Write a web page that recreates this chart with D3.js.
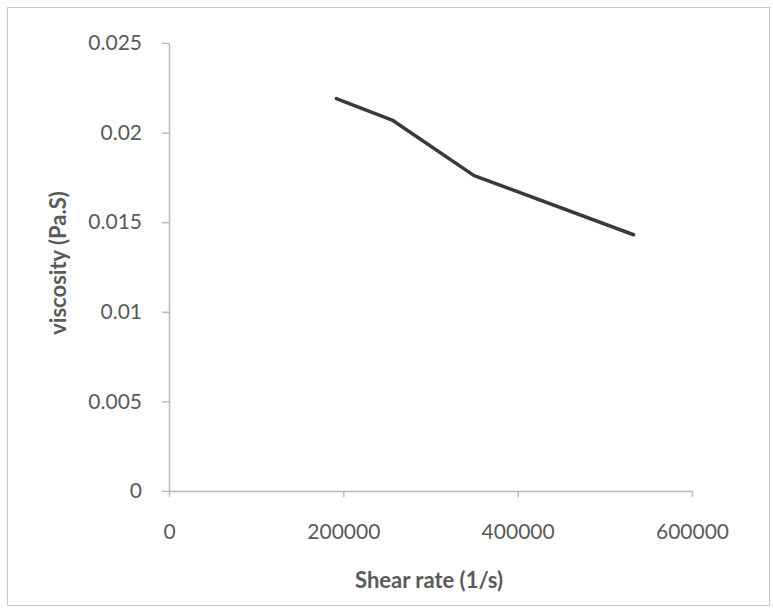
<!DOCTYPE html>
<html>
<head>
<meta charset="utf-8">
<script src="https://d3js.org/d3.v7.min.js"></script>
<style>
  body { margin: 0; background: #fff; }
  svg text { font-family: Lato, "Open Sans", sans-serif; fill: #5a5a5a; }
</style>
</head>
<body>
<div id="chart"></div>
<script>
  // values
  var shearRate = [192000, 256000, 350000, 533000];
  var viscosity = [0.0219, 0.0207, 0.0176, 0.0143];
  var xTicks = [0, 200000, 400000, 600000];
  var yTicks = [0, 0.005, 0.01, 0.015, 0.02, 0.025];
  var xTitle = "Shear rate (1/s)";
  var yTitle = "viscosity (Pa.S)";

  var width = 773, height = 608;
  var margin = {left: 169, top: 43, right: 81, bottom: 117};

  var svg = d3.select("#chart").append("svg")
      .attr("width", width)
      .attr("height", height);

  // outer chart border
  svg.append("rect")
      .attr("x", 7.5).attr("y", 7.5)
      .attr("width", 762).attr("height", 598)
      .attr("fill", "none")
      .attr("stroke", "#c8c8c8");

  var x = d3.scaleLinear().domain([0, 600000])
      .range([margin.left, width - margin.right]);
  var y = d3.scaleLinear().domain([0, 0.025])
      .range([height - margin.bottom, margin.top]);

  svg.append("g")
      .attr("transform", "translate(0," + (height - margin.bottom) + ")")
      .call(d3.axisBottom(x).tickValues(xTicks).tickFormat(d3.format("d"))
        .tickSizeInner(6).tickSizeOuter(0).tickPadding(27));
  svg.append("g")
      .attr("transform", "translate(" + margin.left + ",0)")
      .call(d3.axisLeft(y).tickValues(yTicks).tickFormat(function (d) { return d3.format("")(+d.toFixed(3)); })
        .tickSizeInner(7).tickSizeOuter(0).tickPadding(20));

  svg.selectAll(".domain, .tick line")
      .attr("stroke", "#b8b8c4")
      .attr("stroke-width", 1.5);
  svg.selectAll(".tick text")
      .style("font-size", "21px")
      .attr("fill", "#5a5a5a");

  // axis titles
  svg.append("text")
      .attr("x", 429).attr("y", 588)
      .attr("text-anchor", "middle")
      .style("font-size", "22px")
      .style("font-weight", "bold")
      .text(xTitle);
  svg.append("text")
      .attr("transform", "translate(66,263) rotate(-90)")
      .attr("text-anchor", "middle")
      .style("font-size", "22px")
      .style("font-weight", "bold")
      .text(yTitle);

  // the data line
  var line = d3.line()
      .x(function (d, i) { return x(shearRate[i]); })
      .y(function (d) { return y(d); });
  svg.append("path")
      .datum(viscosity)
      .attr("d", line)
      .attr("fill", "none")
      .attr("stroke", "#3a3a3e")
      .attr("stroke-width", 3.5)
      .attr("stroke-linejoin", "round")
      .attr("stroke-linecap", "round");
</script>
</body>
</html>
